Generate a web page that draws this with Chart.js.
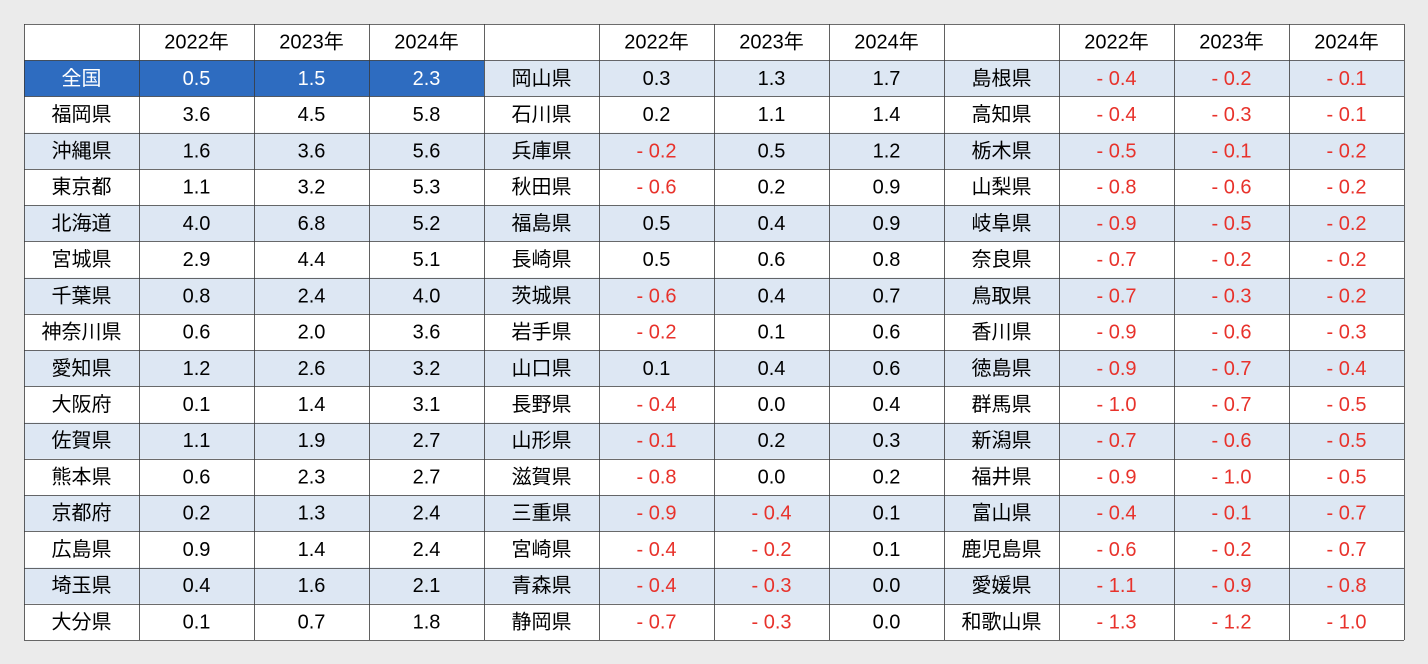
<!DOCTYPE html>
<html lang="ja">
<head>
<meta charset="UTF-8" />
<title>都道府県別 推移</title>
<script src="https://cdn.jsdelivr.net/npm/chart.js"></script>
<style>
  body { margin: 0; background: #ebebeb; }
  #wrap { width: 1428px; height: 664px; }
</style>
</head>
<body>
<div id="wrap"><canvas id="tbl" width="1428" height="664"></canvas></div>
<script>
// column headings and the three blocks of the table
const years = ["2022年", "2023年", "2024年"];

const names1 = ["全国","福岡県","沖縄県","東京都","北海道","宮城県","千葉県","神奈川県","愛知県","大阪府","佐賀県","熊本県","京都府","広島県","埼玉県","大分県"];
const v1_2022 = [0.5,3.6,1.6,1.1,4.0,2.9,0.8,0.6,1.2,0.1,1.1,0.6,0.2,0.9,0.4,0.1];
const v1_2023 = [1.5,4.5,3.6,3.2,6.8,4.4,2.4,2.0,2.6,1.4,1.9,2.3,1.3,1.4,1.6,0.7];
const v1_2024 = [2.3,5.8,5.6,5.3,5.2,5.1,4.0,3.6,3.2,3.1,2.7,2.7,2.4,2.4,2.1,1.8];

const names2 = ["岡山県","石川県","兵庫県","秋田県","福島県","長崎県","茨城県","岩手県","山口県","長野県","山形県","滋賀県","三重県","宮崎県","青森県","静岡県"];
const v2_2022 = [0.3,0.2,-0.2,-0.6,0.5,0.5,-0.6,-0.2,0.1,-0.4,-0.1,-0.8,-0.9,-0.4,-0.4,-0.7];
const v2_2023 = [1.3,1.1,0.5,0.2,0.4,0.6,0.4,0.1,0.4,0.0,0.2,0.0,-0.4,-0.2,-0.3,-0.3];
const v2_2024 = [1.7,1.4,1.2,0.9,0.9,0.8,0.7,0.6,0.6,0.4,0.3,0.2,0.1,0.1,0.0,0.0];

const names3 = ["島根県","高知県","栃木県","山梨県","岐阜県","奈良県","鳥取県","香川県","徳島県","群馬県","新潟県","福井県","富山県","鹿児島県","愛媛県","和歌山県"];
const v3_2022 = [-0.4,-0.4,-0.5,-0.8,-0.9,-0.7,-0.7,-0.9,-0.9,-1.0,-0.7,-0.9,-0.4,-0.6,-1.1,-1.3];
const v3_2023 = [-0.2,-0.3,-0.1,-0.6,-0.5,-0.2,-0.3,-0.6,-0.7,-0.7,-0.6,-1.0,-0.1,-0.2,-0.9,-1.2];
const v3_2024 = [-0.1,-0.1,-0.2,-0.2,-0.2,-0.2,-0.2,-0.3,-0.4,-0.5,-0.5,-0.5,-0.7,-0.7,-0.8,-1.0];

const blocks = [
  [names1, v1_2022, v1_2023, v1_2024],
  [names2, v2_2022, v2_2023, v2_2024],
  [names3, v3_2022, v3_2023, v3_2024],
];

const colLabels = [];
blocks.forEach((b, i) => { colLabels.push("name" + i); years.forEach(y => colLabels.push(y + i)); });
const rowLabels = ["head"].concat(names1.map((n, i) => "r" + i));

function fmt(v) {
  return v < 0 ? "- " + Math.abs(v).toFixed(1) : v.toFixed(1);
}

const tablePlugin = {
  id: "tablePlugin",
  afterDraw(chart) {
    const ctx = chart.ctx;
    const xs = chart.scales.x, ys = chart.scales.y;
    const cw = xs.width / colLabels.length;
    const rh = ys.height / rowLabels.length;
    const left = xs.left, top = ys.top;

    ctx.save();
    ctx.fillStyle = "#ffffff";
    ctx.fillRect(left, top, xs.width, ys.height);

    // row shading
    for (let r = 1; r < rowLabels.length; r++) {
      const cy = ys.getPixelForValue(r);
      if (r % 2 === 1) {
        ctx.fillStyle = "#dde7f3";
        ctx.fillRect(left, cy - rh / 2, xs.width, rh);
      }
    }
    // highlighted national row
    ctx.fillStyle = "#2e6cc0";
    ctx.fillRect(left, ys.getPixelForValue(1) - rh / 2, cw * 4, rh);

    // grid
    ctx.strokeStyle = "#3a3a3a";
    ctx.lineWidth = 0.8;
    for (let c = 0; c <= colLabels.length; c++) {
      const x = Math.round(left + c * cw) + 0.5;
      ctx.beginPath(); ctx.moveTo(x, top); ctx.lineTo(x, top + ys.height); ctx.stroke();
    }
    for (let r = 0; r <= rowLabels.length; r++) {
      const y = Math.round(top + r * rh) + 0.5;
      ctx.beginPath(); ctx.moveTo(left, y); ctx.lineTo(left + xs.width, y); ctx.stroke();
    }

    // text
    ctx.font = '20px "Liberation Sans", "Noto Sans CJK JP", sans-serif';
    ctx.textAlign = "center";
    ctx.textBaseline = "middle";
    blocks.forEach((b, bi) => {
      const base = bi * 4;
      ctx.fillStyle = "#000";
      years.forEach((y, k) => ctx.fillText(y, xs.getPixelForValue(base + 1 + k), ys.getPixelForValue(0) + 1));
      b[0].forEach((name, i) => {
        const cy = ys.getPixelForValue(i + 1) + 1;
        const hi = bi === 0 && i === 0;
        ctx.fillStyle = hi ? "#fff" : "#000";
        ctx.fillText(name, xs.getPixelForValue(base), cy);
        for (let k = 1; k <= 3; k++) {
          const v = b[k][i];
          ctx.fillStyle = hi ? "#fff" : (v < 0 ? "#e8322b" : "#000");
          ctx.fillText(fmt(v), xs.getPixelForValue(base + k), cy);
        }
      });
    });
    ctx.restore();
  }
};

new Chart(document.getElementById("tbl"), {
  type: "bar",
  data: { labels: colLabels, datasets: [] },
  options: {
    responsive: false,
    animation: false,
    devicePixelRatio: 2,
    layout: { padding: { left: 24, right: 24, top: 24, bottom: 24 } },
    plugins: { legend: { display: false }, tooltip: { enabled: false } },
    scales: {
      x: { type: "category", labels: colLabels, offset: true, display: false },
      y: { type: "category", labels: rowLabels, offset: true, display: false }
    }
  },
  plugins: [tablePlugin]
});
</script>
</body>
</html>
